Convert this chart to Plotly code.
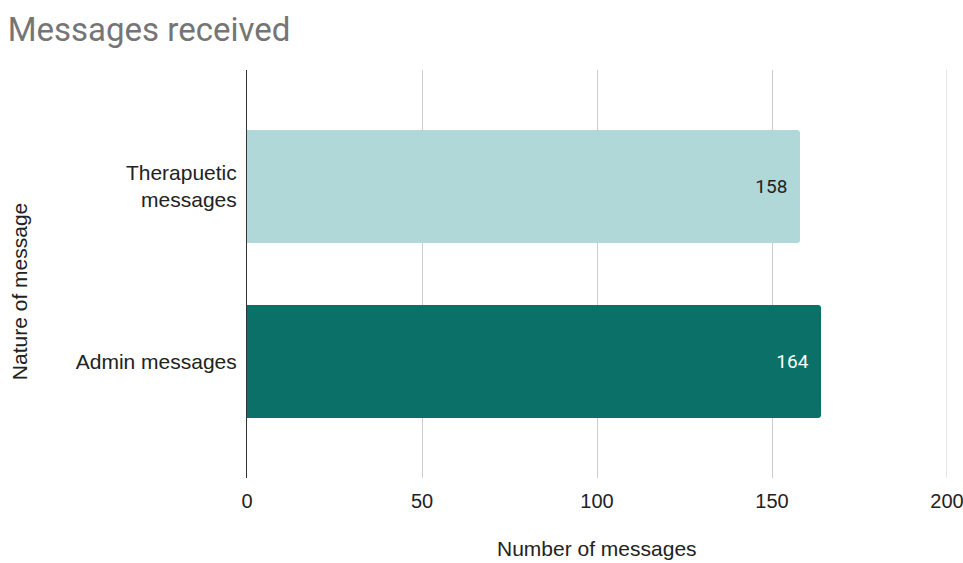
import plotly.graph_objects as go

# Message counts by type
categories = ["Admin messages", "Therapuetic<br>messages"]
counts = [164, 158]
bar_colors = ["#0b7168", "#b0d8d8"]
label_colors = ["#ffffff", "#222222"]
x_ticks = [0, 50, 100, 150, 200]

AXIS_FONT = "Liberation Sans, Arial, sans-serif"

fig = go.Figure(
    go.Bar(
        x=counts,
        y=categories,
        orientation="h",
        marker=dict(color=bar_colors, line=dict(width=0)),
        texttemplate="%{x}\u2002",
        textposition="inside",
        insidetextanchor="end",
        textfont=dict(family="Roboto", size=19, color=label_colors),
        width=0.645,
        hoverinfo="x+y",
    )
)

fig.update_layout(
    width=963,
    height=563,
    margin=dict(l=247, r=16, t=70, b=85),
    paper_bgcolor="white",
    plot_bgcolor="white",
    barcornerradius=3,
    showlegend=False,
    font=dict(family=AXIS_FONT, size=20, color="#222222"),
    title=dict(
        text="Messages received",
        x=0.008,
        xanchor="left",
        y=0.947,
        yanchor="middle",
        font=dict(family="Roboto", size=33, color="#757575"),
    ),
    xaxis=dict(
        range=[0, 200],
        tickvals=x_ticks,
        ticktext=[str(t) for t in x_ticks],
        showgrid=True,
        gridcolor="#cccccc",
        gridwidth=1,
        zeroline=False,
        showline=False,
        ticks="",
        ticklabelstandoff=9,
        ticklabeloverflow="allow",
        automargin=False,
        tickfont=dict(family=AXIS_FONT, size=20, color="#222222"),
        fixedrange=True,
    ),
    yaxis=dict(
        range=[-0.665, 1.665],
        showgrid=False,
        zeroline=False,
        showline=True,
        linecolor="#333333",
        linewidth=1,
        ticks="",
        ticklabelstandoff=5,
        automargin=False,
        tickfont=dict(family=AXIS_FONT, size=21, color="#222222"),
        fixedrange=True,
    ),
    shapes=[
        # right-hand grid line at the end of the value range
        dict(
            type="line", xref="x", yref="paper",
            x0=x_ticks[-1], x1=x_ticks[-1], y0=0, y1=1,
            line=dict(color="#cccccc", width=1),
            layer="below",
        ),
    ],
    annotations=[
        dict(
            text="Number of messages",
            xref="paper", yref="paper",
            x=0.5, y=-0.172,
            xanchor="center", yanchor="middle",
            showarrow=False,
            font=dict(family=AXIS_FONT, size=21, color="#222222"),
        ),
        dict(
            text="Nature of message",
            xref="paper", yref="paper",
            x=-0.324, y=0.456,
            xanchor="center", yanchor="middle",
            textangle=-90,
            showarrow=False,
            font=dict(family=AXIS_FONT, size=21, color="#222222"),
        ),
    ],
)

fig.write_html("out.html")
